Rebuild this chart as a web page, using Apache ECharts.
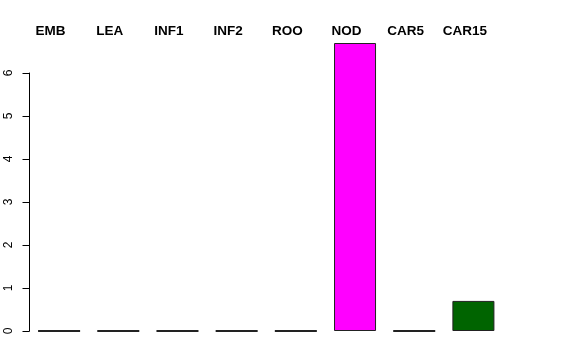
<!DOCTYPE html>
<html><head><meta charset="utf-8">
<script src="https://cdn.jsdelivr.net/npm/echarts@6/dist/echarts.min.js"></script>
<style>html,body{margin:0;padding:0;background:#fff}#c{width:576px;height:360px}</style>
</head><body><div id="c"></div>
<script>
const categories = ['EMB','LEA','INF1','INF2','ROO','NOD','CAR5','CAR15'];
const values = [0,0,0,0,0,6.7,0,0.7];
const colors = ['#ffffff','#ffffff','#ffffff','#ffffff','#ffffff','#ff00ff','#ffffff','#006400'];
const yTicks = [0,1,2,3,4,5,6];

const chart = echarts.init(document.getElementById('c'), null, {renderer:'canvas'});
chart.setOption({
  animation:false,
  backgroundColor:'#fff',
  grid:[
    {left:29.5, right:73, top:43, bottom:29},
    {left:29.5, right:73, top:73, bottom:29}
  ],
  xAxis:[
    {type:'category', data:categories, gridIndex:0, position:'top',
     axisLine:{show:false}, axisTick:{show:false},
     axisLabel:{fontFamily:'Liberation Sans, Arial, sans-serif', fontWeight:'bold', fontSize:13.5, color:'#000', margin:5, padding:[0,17,0,0], interval:0}},
    {type:'category', data:categories, gridIndex:1, show:false}
  ],
  yAxis:[
    {type:'value', gridIndex:0, min:0, max:6.7, show:false},
    {type:'value', gridIndex:1, min:0, max:yTicks[yTicks.length-1], interval:1, splitLine:{show:false},
     axisLine:{show:true, lineStyle:{color:'#000', width:1}},
     axisTick:{show:true, length:7, lineStyle:{color:'#000'}},
     axisLabel:{rotate:90, fontFamily:'Liberation Sans, Arial, sans-serif', fontSize:12, color:'#000', margin:15,
       formatter:v=>yTicks.includes(v)?String(v):''}}
  ],
  series:[{
    type:'bar', xAxisIndex:0, yAxisIndex:0, barCategoryGap:'29%',
    data: values.map((v,i)=>({value:v, itemStyle:{color:colors[i], borderWidth: v===0?2:1}})),
    itemStyle:{borderColor:'#222'}
  }]
});
</script></body></html>
